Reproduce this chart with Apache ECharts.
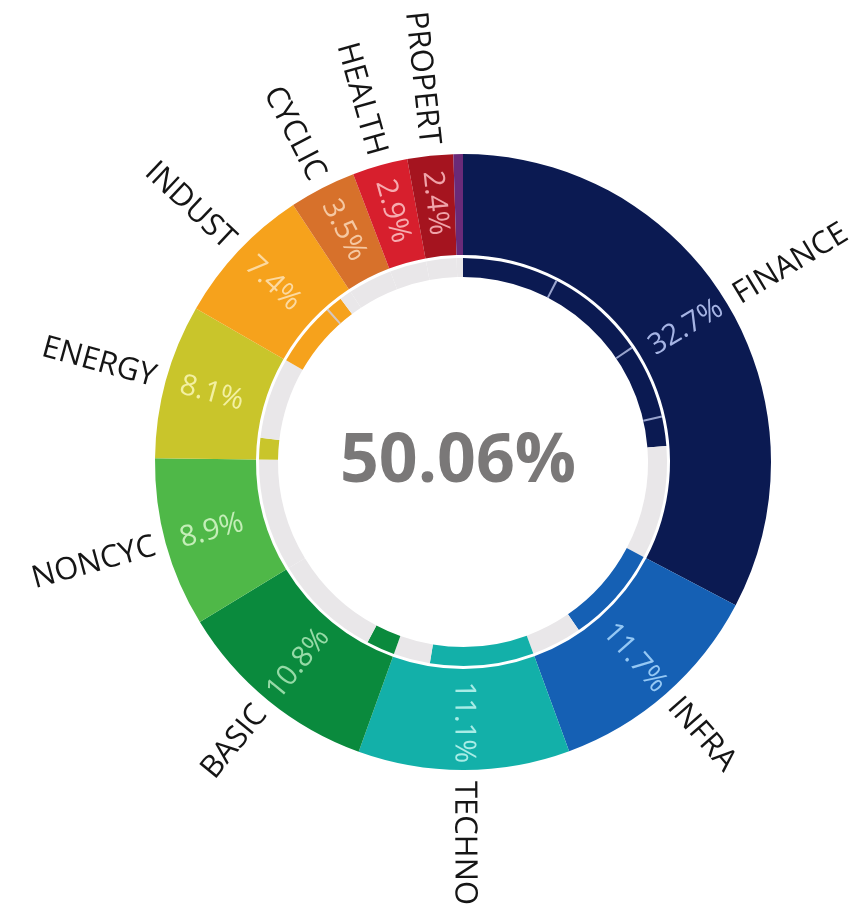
<!DOCTYPE html>
<html><head><meta charset="utf-8">
<script src="https://cdn.jsdelivr.net/npm/echarts@6/dist/echarts.min.js"></script>
<style>html,body{margin:0;padding:0;background:#fff}#c{width:860px;height:912px}</style>
</head><body><div id="c"></div>
<script>
// ---- data ----
const sectors = ['FINANCE','INFRA','TECHNO','BASIC','NONCYC','ENERGY','INDUST','CYCLIC','HEALTH','PROPERT',''];
const weights = [32.7, 11.7, 11.1, 10.8, 8.9, 8.1, 7.4, 3.5, 2.9, 2.4, 0.5];
const innerFill = [23.75, 7.7, 8.2, 2.25, 0, 1.7, 6.46, 0, 0, 0, 0];
const innerTicks = [7.58, 15.53, 21.42, 88.44];

// ---- styles ----
const sectorColors = ['#0b1a52','#1560b4','#13b0a9','#0a8a3d','#4fb848','#c9c52b','#f6a21c','#d7712b','#d71f2d','#a5141f','#6a2a78'];
const labelColors  = ['#a6b4e4','#95c8f4','#a8ece6','#95daa6','#c4eeb8','#f3f0a2','#fcd9a0','#f5c8a2','#f6abaf','#efa3a9','#ffffff'];
const trackColor = '#e9e7e9';
const CX = 463, CY = 462;

const outerData = sectors.map((n, i) => ({
  name: n, value: weights[i],
  itemStyle: { color: sectorColors[i] },
  label: { show: n !== '', color: labelColors[i] }
}));

const innerData = [];
sectors.forEach((n, i) => {
  if (innerFill[i] > 0) innerData.push({ value: innerFill[i], itemStyle: { color: sectorColors[i] } });
  const rest = weights[i] - innerFill[i];
  if (rest > 0) innerData.push({ value: rest, itemStyle: { color: trackColor } });
});

const tickW = 0.17;
const tickData = [];
let pos = 0;
innerTicks.forEach(t => {
  tickData.push({ value: t - tickW / 2 - pos, itemStyle: { color: 'rgba(0,0,0,0)' } });
  tickData.push({ value: tickW, itemStyle: { color: 'rgba(200,210,245,0.75)' } });
  pos = t + tickW / 2;
});
tickData.push({ value: 100 - pos, itemStyle: { color: 'rgba(0,0,0,0)' } });

const total = innerFill.reduce((a, b) => a + b, 0);

const common = { type: 'pie', center: [CX, CY], startAngle: 90, clockwise: true, silent: true,
  animation: false, avoidLabelOverlap: false, minAngle: 0, emphasis: { disabled: true } };

const chart = echarts.init(document.getElementById('c'));
chart.setOption({
  backgroundColor: '#ffffff',
  series: [
    Object.assign({}, common, {
      name: 'outer', radius: [207, 308], data: outerData,
      itemStyle: { borderWidth: 0 },
      label: { show: true, position: 'inside', rotate: 'radial', fontFamily: 'Open Sans', fontSize: 29,
        formatter: p => p.value.toFixed(1) + '%' },
      labelLine: { show: false }
    }),
    Object.assign({}, common, {
      name: 'outerNames', radius: [207, 308], data: outerData.map(d => ({ name: d.name, value: d.value,
        itemStyle: { color: 'rgba(0,0,0,0)' }, label: { show: d.name !== '' } })),
      label: { show: true, position: 'outside', rotate: 'radial', fontFamily: 'Open Sans', fontSize: 31,
        color: '#151515', distanceToLabelLine: 0, formatter: p => p.name },
      labelLine: { show: false, length: 11, length2: 0 }
    }),
    Object.assign({}, common, {
      name: 'inner', radius: [185, 204], data: innerData, label: { show: false }, labelLine: { show: false }
    }),
    Object.assign({}, common, {
      name: 'ticks', radius: [185, 204], data: tickData, label: { show: false }, labelLine: { show: false }
    })
  ],
  graphic: [{
    type: 'text', x: 458, y: 463, silent: true,
    style: { text: total.toFixed(2) + '%', fill: '#7a7878', fontFamily: 'Open Sans', fontWeight: 'bold',
      fontSize: 68, align: 'center', verticalAlign: 'middle', textAlign: 'center', textVerticalAlign: 'middle' }
  }]
});
</script></body></html>
